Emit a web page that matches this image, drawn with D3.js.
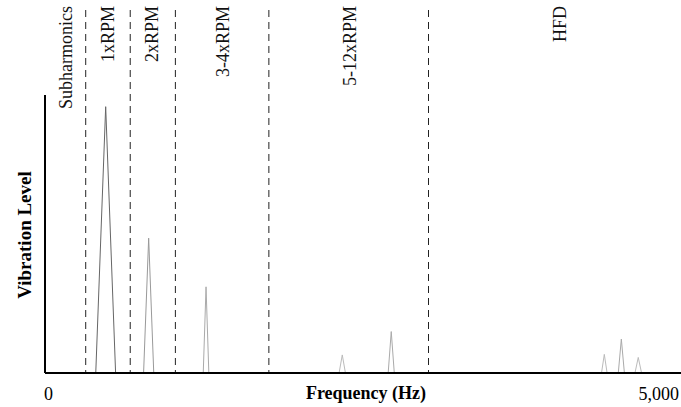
<!DOCTYPE html>
<html>
<head>
<meta charset="utf-8">
<script src="https://cdn.jsdelivr.net/npm/d3@7"></script>
<style>
  body { margin: 0; background: #fff; }
  svg { font-family: "Liberation Serif", "Times New Roman", serif; }
</style>
</head>
<body>
<svg width="681" height="407"></svg>
<script>
// band boundaries (Hz) and band labels
var bandEdges = [320, 670, 1025, 1760, 3015];
var bandNames = ["Subharmonics", "1xRPM", "2xRPM", "3-4xRPM", "5-12xRPM", "HFD"];
var bandLabelHz = [165, 495, 840, 1400, 2400, 4045];

// spectral peaks: centre frequency, height (relative), half width
var peakHz    = [477, 815, 1266, 2337, 2722, 4397, 4531, 4664];
var peakLevel = [0.958, 0.485, 0.31, 0.065, 0.149, 0.067, 0.122, 0.056];
var peakHalf  = [78, 40, 22, 25, 24, 22, 24, 26];
var peakColor = ["#666", "#999", "#aaa", "#bbb", "#aaa", "#bbb", "#aaa", "#bbb"];

var xTicks = [0, 5000];

var svg = d3.select("svg"),
    x0 = 45, x1 = 681, yBase = 373, yTop = 95;

var x = d3.scaleLinear().domain([0, 5000]).range([x0, x1]);
var y = d3.scaleLinear().domain([0, 1]).range([yBase, yTop]);

// dashed band separators
svg.selectAll(".sep")
    .data(bandEdges)
    .enter().append("line")
    .attr("x1", function(d) { return x(d); })
    .attr("x2", function(d) { return x(d); })
    .attr("y1", 10)
    .attr("y2", yBase)
    .attr("stroke", "#222")
    .attr("stroke-width", 1)
    .attr("stroke-dasharray", "7,5");

// band labels, rotated
svg.selectAll(".band")
    .data(bandNames)
    .enter().append("text")
    .attr("transform", function(d, i) { return "translate(" + (x(bandLabelHz[i]) + 6) + ",6) rotate(-90)"; })
    .attr("text-anchor", "end")
    .style("font-size", "18px")
    .attr("fill", "#111")
    .text(function(d) { return d; });

// peaks
var line = d3.line();
svg.selectAll(".peak")
    .data(peakHz)
    .enter().append("path")
    .attr("d", function(d, i) {
        return line([[x(d - peakHalf[i]), y(0)], [x(d), y(peakLevel[i])], [x(d + peakHalf[i]), y(0)]]);
    })
    .attr("fill", "none")
    .attr("stroke", function(d, i) { return peakColor[i]; })
    .attr("stroke-width", 1);

// axes
svg.append("line")
    .attr("x1", x0).attr("x2", x1).attr("y1", yBase).attr("y2", yBase)
    .attr("stroke", "#000").attr("stroke-width", 2);
svg.append("line")
    .attr("x1", x0).attr("x2", x0).attr("y1", yTop).attr("y2", yBase)
    .attr("stroke", "#000").attr("stroke-width", 2);

svg.selectAll(".tick")
    .data(xTicks)
    .enter().append("text")
    .attr("x", function(d) { return x(d) + (d === 0 ? -1 : -2); })
    .attr("y", 400)
    .attr("text-anchor", function(d, i) { return i === 0 ? "start" : "end"; })
    .style("font-size", "18px")
    .text(function(d) { return d3.format(",")(d); });

svg.append("text")
    .attr("x", 366)
    .attr("y", 399)
    .attr("text-anchor", "middle")
    .style("font-size", "18px")
    .style("font-weight", "bold")
    .text("Frequency (Hz)");

svg.append("text")
    .attr("transform", "translate(31,235) rotate(-90)")
    .attr("text-anchor", "middle")
    .style("font-size", "19px")
    .style("font-weight", "bold")
    .text("Vibration Level");
</script>
</body>
</html>
